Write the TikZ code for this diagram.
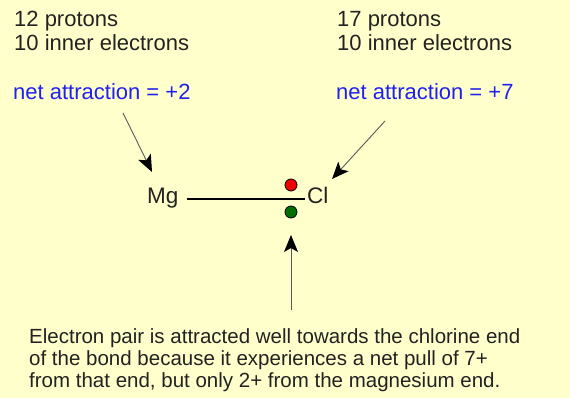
\documentclass[tikz,border=0pt]{standalone}
\usepackage{fontspec}
\setmainfont{Liberation Sans}
\usetikzlibrary{arrows.meta}
\definecolor{paper}{HTML}{FFFFCC}
\definecolor{ink}{HTML}{222222}
\definecolor{netblue}{HTML}{2020F0}
\definecolor{pairred}{HTML}{F00000}
\definecolor{pairgreen}{HTML}{006E00}

\begin{document}
\begin{tikzpicture}[x=1pt, y=-1pt,
  label/.style={inner sep=0pt, anchor=base west, align=left, text=ink,
                font=\fontsize{22}{24}\selectfont},
  net/.style={label, text=netblue},
  atom/.style={inner sep=0pt, anchor=base west, text=ink, font=\fontsize{22.5}{24}\selectfont},
  dot/.style={circle, draw=black, line width=0.8pt, minimum size=12pt, inner sep=0pt},
  pointer/.style={-{Stealth[length=17pt, width=14pt, inset=4pt, black]}, draw=black!65, line width=0.9pt},
  bond/.style={draw=black, line width=1.1pt}
]
  \fill[paper] (0,0) rectangle (570,398);
  \useasboundingbox (0,0) rectangle (570,398);

  \node[label] (mgcount) at (14,51) {12 protons\\10 inner electrons};
  \node[label] (clcount) at (337,51) {17 protons\\10 inner electrons};
  \node[net] (mgnet) at (13,100) {net attraction = +2};
  \node[net] (clnet) at (336,100) {net attraction = +7};

  \node[atom] (mg) at (147,204) {Mg};
  \node[atom] (cl) at (307,204) {Cl};
  \draw[bond] ([xshift=8pt, yshift=5pt]mg.base east) -- ([xshift=-2pt, yshift=5pt]cl.base west);

  \node[dot, fill=pairred] (pairtop) at (291,185) {};
  \node[dot, fill=pairgreen] (pairlow) at (291,212) {};

  \coordinate (mgfrom) at (123,113);
  \coordinate (mgto) at (152,172);
  \coordinate (clfrom) at (385,121);
  \coordinate (clto) at (332,179);
  \coordinate (pullfrom) at (291,310);
  \coordinate (pullto) at (291,235);
  \draw[pointer] (mgfrom) -- (mgto);
  \draw[pointer] (clfrom) -- (clto);
  \draw[pointer] (pullfrom) -- (pullto);

  \node[inner sep=0pt, anchor=base west, align=left, text=ink,
        font=\fontsize{20.5}{22}\selectfont] (note) at (29,387)
    {Electron pair is attracted well towards the chlorine end\\
     of the bond because it experiences a net pull of 7+\\
     from that end, but only 2+ from the magnesium end.};
\end{tikzpicture}
\end{document}
